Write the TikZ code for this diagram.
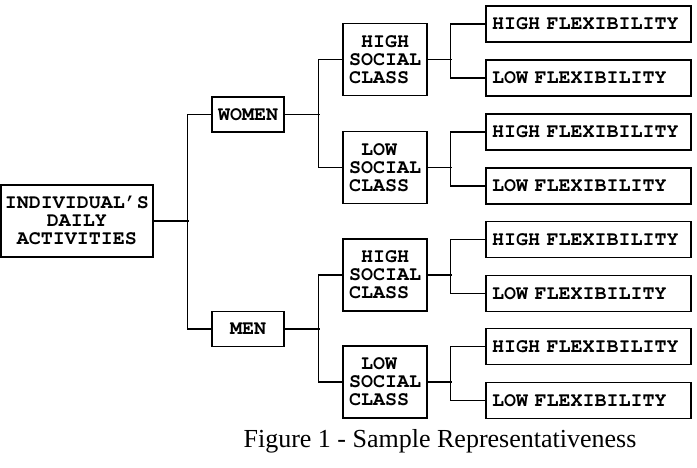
\documentclass[tikz,border=0pt]{standalone}
\usepackage[T1]{fontenc}
\usepackage{fontspec}
\setmainfont{Liberation Serif}
\usetikzlibrary{positioning}

\newcommand{\boxfont}{\fontencoding{T1}\fontfamily{pcr}\fontseries{b}\fontsize{20}{18}\selectfont\spaceskip=12pt\relax}

\tikzset{
  box/.style={draw, inner sep=0pt, font=\boxfont},
  origin/.style={box, align=center, minimum width=152pt, minimum height=72pt},
  sex/.style={box, align=center, minimum width=72pt, minimum height=35pt},
  social/.style={box, align=left, minimum width=84pt, minimum height=72pt},
  flex/.style={box, align=left, text width=193pt, minimum width=205pt, minimum height=36pt}
}

\begin{document}
\begin{tikzpicture}[x=1pt, y=-1pt, line width=1.2pt]
\useasboundingbox (0,0) rectangle (697,468);

\node[origin] (daily) at (77,221) {INDIVIDUAL'S\\DAILY\\ACTIVITIES};
\node[sex] (women) at (248,114.5) {WOMEN};
\node[sex] (men) at (248,329) {MEN};

\node[social] (women high) at (385,59.5) {\phantom{X}HIGH\\SOCIAL\\CLASS};
\node[social] (women low) at (385,167.5) {\phantom{X}LOW\\SOCIAL\\CLASS};
\node[social] (men high) at (385,275) {\phantom{X}HIGH\\SOCIAL\\CLASS};
\node[social] (men low) at (385,382) {\phantom{X}LOW\\SOCIAL\\CLASS};

% root to sexes
\draw (daily.east) -- ++(35,0);
\draw (women.west) -- ++(-24,0) |- (men.west);

% sexes to social classes
\draw (women.east) -- ++(35,0);
\draw (women high.west) -- ++(-24,0) |- (women low.west);
\draw (men.east) -- ++(35,0);
\draw (men high.west) -- ++(-24,0) |- (men low.west);

% flexibility leaves
\foreach \cls in {women high, women low, men high, men low} {
  \node[flex] (\cls\space hf) at ([shift={(203.5,-35.5)}]\cls.center) {HIGH FLEXIBILITY};
  \node[flex] (\cls\space lf) at ([shift={(203.5,18.5)}]\cls.center) {LOW FLEXIBILITY};
  \draw (\cls.east) -- ++(24,0);
  \draw (\cls\space hf.west) -- ++(-35,0) |- (\cls\space lf.west);
}

\node[font=\fontsize{26}{30}\selectfont, anchor=base] (caption) at (440,447) {Figure 1 - Sample Representativeness};
\end{tikzpicture}
\end{document}
